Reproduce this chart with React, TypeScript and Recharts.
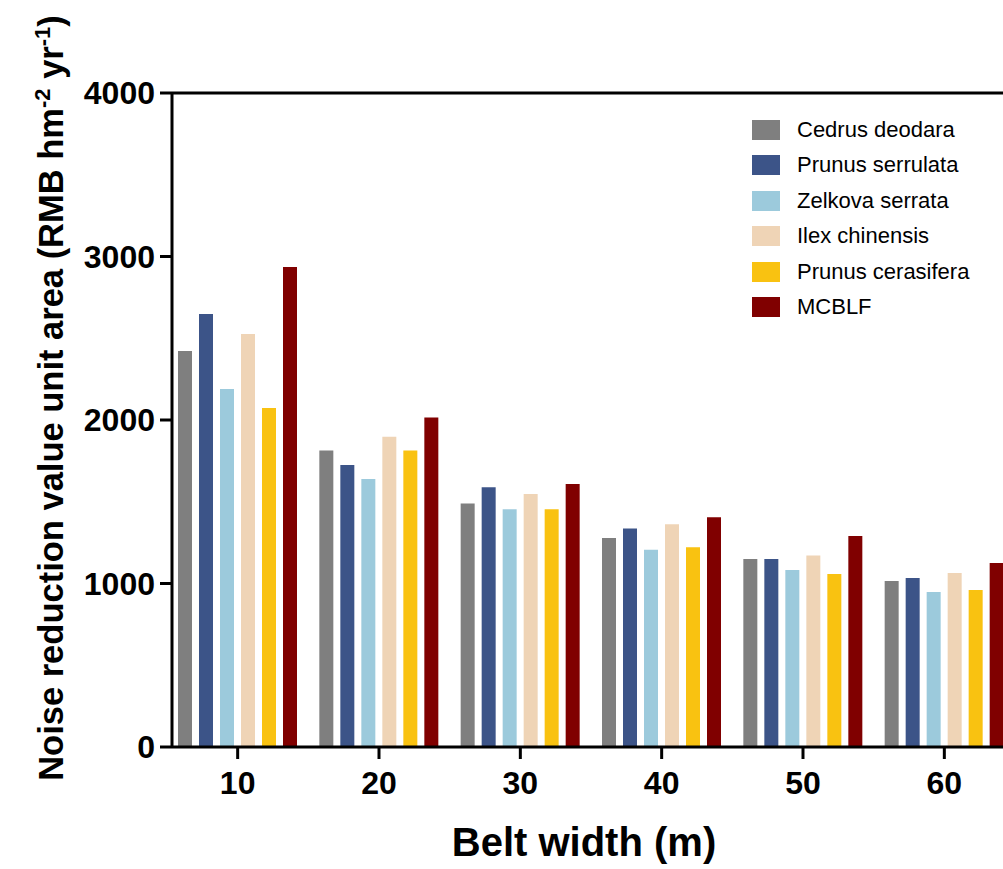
import { Bar, BarChart, ReferenceLine, XAxis, YAxis } from "recharts";

const widths = ["10", "20", "30", "40", "50", "60"];

const cedrus = [2422, 1813, 1490, 1278, 1150, 1015];
const serrulata = [2648, 1725, 1588, 1337, 1150, 1034];
const zelkova = [2190, 1639, 1454, 1207, 1083, 948];
const ilex = [2526, 1898, 1547, 1363, 1172, 1064];
const cerasifera = [2073, 1813, 1454, 1221, 1058, 960];
const mcblf = [2936, 2016, 1609, 1405, 1291, 1125];

const yTicks = [0, 1000, 2000, 3000, 4000];

const series = [
  { key: "cedrus", label: "Cedrus deodara", color: "#7f7f7f", values: cedrus },
  { key: "serrulata", label: "Prunus serrulata", color: "#3c5488", values: serrulata },
  { key: "zelkova", label: "Zelkova serrata", color: "#9ccadc", values: zelkova },
  { key: "ilex", label: "Ilex chinensis", color: "#efd4b6", values: ilex },
  { key: "cerasifera", label: "Prunus cerasifera", color: "#f9c211", values: cerasifera },
  { key: "mcblf", label: "MCBLF", color: "#800000", values: mcblf },
];

const data = widths.map((w, i) => {
  const row: Record<string, string | number> = { width: w };
  series.forEach((s) => {
    row[s.key] = s.values[i];
  });
  return row;
});

const FONT = '"Liberation Sans", Arial, sans-serif';

function LegendBox() {
  return (
    <ul
      style={{
        position: "absolute",
        left: 752,
        top: 112,
        listStyle: "none",
        margin: 0,
        padding: 0,
        fontFamily: FONT,
      }}
    >
      {series.map((s) => (
        <li
          key={s.key}
          style={{ display: "flex", alignItems: "center", height: 35.5, fontSize: 22, color: "#000", whiteSpace: "nowrap" }}
        >
          <span style={{ width: 28, height: 20, background: s.color, marginRight: 17, display: "inline-block" }} />
          {s.label}
        </li>
      ))}
    </ul>
  );
}

function YTitle() {
  return (
    <text
      transform="translate(63 398) rotate(-90)"
      textAnchor="middle"
      fontFamily={FONT}
      fontWeight="bold"
      fontSize={34.5}
      fill="#000"
    >
      Noise reduction value unit area (RMB hm
      <tspan fontSize={22} dy={-13}>-2</tspan>
      <tspan dy={13}> yr</tspan>
      <tspan fontSize={22} dy={-13}>-1</tspan>
      <tspan dy={13}>)</tspan>
    </text>
  );
}

function XTitle() {
  return (
    <text x={584} y={856} textAnchor="middle" fontFamily={FONT} fontWeight="bold" fontSize={40} fill="#000">
      Belt width (m)
    </text>
  );
}

export default function App() {
  return (
    <div
      style={{
        position: "fixed",
        left: 0,
        top: 0,
        width: 1003,
        height: 869,
        overflow: "hidden",
        background: "#fff",
      }}
    >
      <BarChart
        width={1020}
        height={869}
        data={data}
        margin={{ top: 93, right: 5, bottom: 0, left: 0 }}
        barSize={14}
        barGap={7}
      >
        <XAxis
          dataKey="width"
          padding={{ left: -5, right: 0 }}
          axisLine={{ stroke: "#000", strokeWidth: 3 }}
          tickLine={{ stroke: "#000", strokeWidth: 3 }}
          tickSize={12}
          tickMargin={12}
          height={122}
          tick={{ fill: "#000", fontSize: 32, fontWeight: "bold", fontFamily: FONT }}
          label={{ content: () => <XTitle /> }}
        />
        <YAxis
          width={172}
          domain={[0, 4000]}
          ticks={yTicks}
          interval={0}
          axisLine={{ stroke: "#000", strokeWidth: 3 }}
          tickLine={{ stroke: "#000", strokeWidth: 3 }}
          tickSize={12}
          tickMargin={5}
          tick={{ fill: "#000", fontSize: 32, fontWeight: "bold", fontFamily: FONT }}
          label={{ content: () => <YTitle /> }}
        />
        <ReferenceLine y={4000} stroke="#000" strokeWidth={3} ifOverflow="visible" />
        {series.map((s) => (
          <Bar
            key={s.key}
            dataKey={s.key}
            name={s.label}
            fill={s.color}
            isAnimationActive={false}
          />
        ))}
      </BarChart>
      <LegendBox />
    </div>
  );
}
